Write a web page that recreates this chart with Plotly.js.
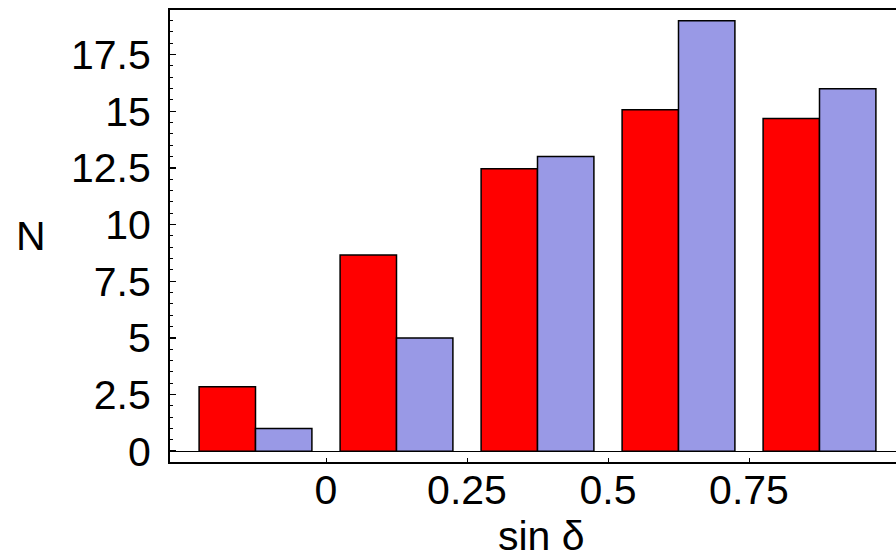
<!DOCTYPE html>
<html>
<head>
<meta charset="utf-8">
<script src="https://cdn.plot.ly/plotly-3.0.1.min.js"></script>
<style>
html, body { margin:0; padding:0; overflow:hidden; background:#fff; }
#chart { width:920px; height:558px; }
</style>
</head>
<body>
<div id="chart"></div>
<script>
// bin centres of sin(delta)
var binCenters = [-0.125, 0.125, 0.375, 0.625, 0.875];
// red series
var redValues = [2.84, 8.66, 12.47, 15.07, 14.68];
// blue series
var blueValues = [1, 5, 13, 19, 16];
var xTickVals = [0, 0.25, 0.5, 0.75];
var xTickText = ['0', '0.25', '0.5', '0.75'];
var yTickVals = [0, 2.5, 5, 7.5, 10, 12.5, 15, 17.5];
var yTickText = ['0', '2.5', '5', '7.5', '10', '12.5', '15', '17.5'];

var font = 'Liberation Sans, Arial, sans-serif';

var traces = [
  {type:'bar', x: binCenters, y: redValues, name:'red',
   marker:{color:'#ff0000', line:{color:'#000', width:1.5}}},
  {type:'bar', x: binCenters, y: blueValues, name:'blue',
   marker:{color:'#9999e6', line:{color:'#000', width:1.5}}}
];

var layout = {
  width:920, height:558,
  margin:{l:170, r:8, t:10, b:96, pad:0},
  paper_bgcolor:'#fff', plot_bgcolor:'#fff',
  showlegend:false,
  barmode:'group', bargap:0.2, bargroupgap:0,
  font:{family:font, size:41, color:'#000'},
  xaxis:{
    range:[-0.2766, 1.039], autorange:false,
    tickvals:xTickVals, ticktext:xTickText,
    ticks:'inside', ticklen:4, tickwidth:1, tickcolor:'#000',
    showline:true, linecolor:'#000', linewidth:2, mirror:true,
    showgrid:false, zeroline:false,
    tickfont:{family:font, size:41, color:'#000'},
    ticklabelstandoff:-9
  },
  yaxis:{
    range:[-0.476, 19.47], autorange:false,
    tickvals:yTickVals, ticktext:yTickText,
    ticks:'inside', ticklen:6, tickwidth:1.5, tickcolor:'#000',
    minor:{dtick:0.5, tick0:0, ticks:'inside', ticklen:3, tickwidth:1, tickcolor:'#000', showgrid:false},
    showline:true, linecolor:'#000', linewidth:2, mirror:false,
    showgrid:false, zeroline:true, zerolinecolor:'#000', zerolinewidth:1,
    tickfont:{family:font, size:41, color:'#000'},
    ticklabelstandoff:9
  },
  annotations:[
    {text:'N', xref:'paper', yref:'paper', x:(31-170)/742, y:0.5,
     xanchor:'center', yanchor:'middle', showarrow:false,
     font:{family:font, size:41, color:'#000'}},
    {text:'sin δ', xref:'paper', yref:'paper', x:0.5, y:-0.164,
     xanchor:'center', yanchor:'middle', showarrow:false,
     font:{family:font, size:41, color:'#000'}}
  ]
};

Plotly.newPlot('chart', traces, layout, {displayModeBar:false, staticPlot:true});
</script>
</body>
</html>
